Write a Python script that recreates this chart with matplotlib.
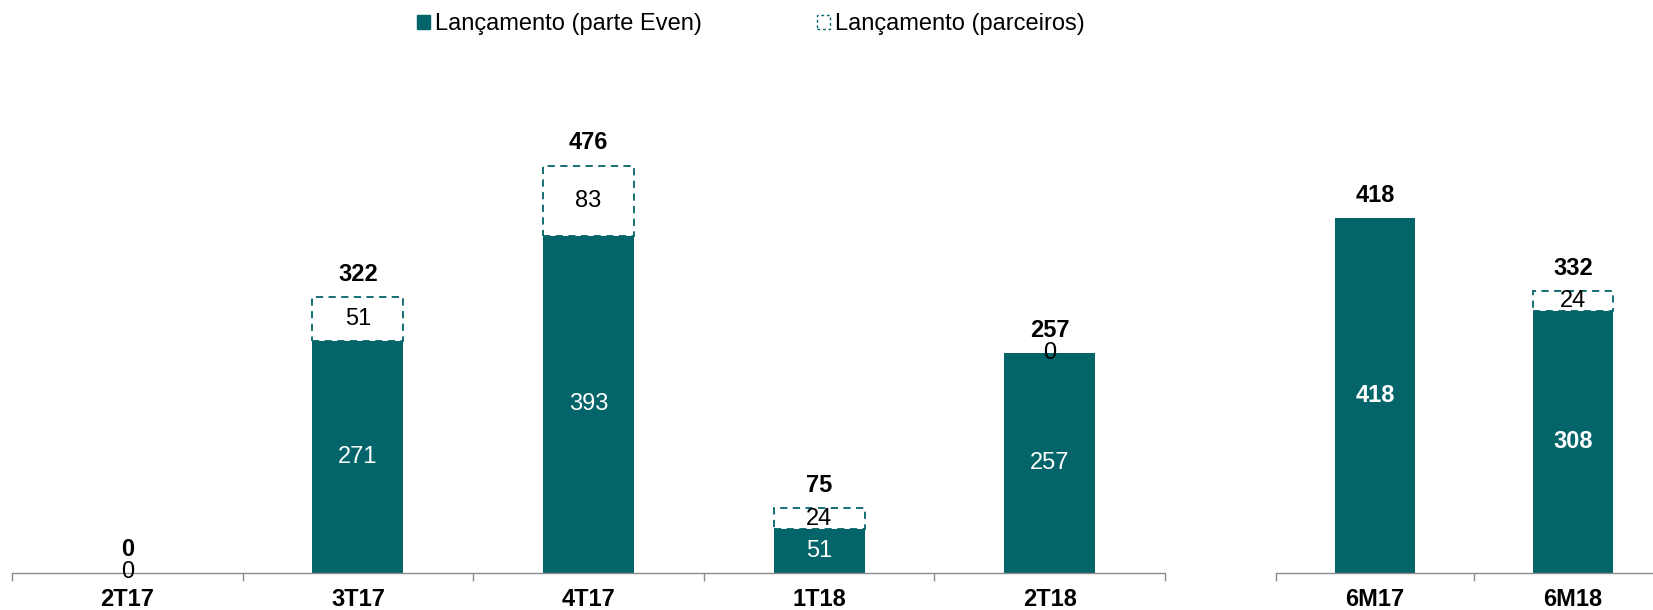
import matplotlib
matplotlib.use("Agg")
import matplotlib.pyplot as plt
from matplotlib.patches import Patch

plt.rcParams['font.family'] = ['Liberation Sans', 'DejaVu Sans']

# data
q_labels = ["2T17", "3T17", "4T17", "1T18", "2T18"]
q_even = [0, 271, 393, 51, 257]
q_partner = [0, 51, 83, 24, 0]
q_total = [0, 322, 476, 75, 257]

s_labels = ["6M17", "6M18"]
s_even = [418, 308]
s_partner = [0, 24]
s_total = [418, 332]

TEAL = "#03656A"
GREY = "#8c8c8c"
FS = 17

fig = plt.figure(figsize=(16.53, 6.10), dpi=100)
ax1 = fig.add_axes([12/1653, 37.5/610, 1153/1653, 513/610])
ax2 = fig.add_axes([1276/1653, 37.5/610, 396/1653, 513/610])


def draw(ax, labels, even, partner, total, width, bold_inside, show_zero_partner):
    n = len(labels)
    x = list(range(n))
    ax.bar(x, even, width=width, color=TEAL, edgecolor=TEAL, linewidth=0, zorder=2)
    for i in range(n):
        if partner[i] > 0:
            ax.bar(x[i], partner[i], bottom=even[i], width=width, facecolor="white",
                   edgecolor=TEAL, linewidth=1.3, linestyle=(0, (4, 3)), zorder=3)
    for i in range(n):
        ax.annotate(f"{total[i]}", (x[i], total[i]), xytext=(0, 8), textcoords="offset points",
                    ha="center", va="bottom", fontsize=FS, fontweight="bold", color="black", zorder=5)
        if even[i] > 0:
            ax.text(x[i], even[i] / 2, f"{even[i]}", ha="center", va="center", fontsize=FS,
                    color="white", fontweight="bold" if bold_inside else "normal", zorder=5)
        else:
            ax.text(x[i], 0, "0", ha="center", va="center", fontsize=FS, color="black", zorder=5)
        if partner[i] > 0:
            ax.text(x[i], even[i] + partner[i] / 2, f"{partner[i]}", ha="center", va="center",
                    fontsize=FS, color="black", zorder=5)
        elif show_zero_partner and even[i] > 0:
            ax.text(x[i], even[i], "0", ha="center", va="center", fontsize=FS, color="black", zorder=5)
    ax.set_xlim(-0.5, n - 0.5)
    for s in ["left", "right", "top"]:
        ax.spines[s].set_visible(False)
    ax.spines["bottom"].set_color(GREY)
    ax.spines["bottom"].set_linewidth(1.0)
    ax.set_yticks([])
    ax.set_xticks(x)
    ax.set_xticklabels(labels, fontsize=FS, fontweight="bold")
    ax.tick_params(axis="x", which="major", length=0, pad=11)
    ax.set_xticks([i - 0.5 for i in range(n + 1)], minor=True)
    ax.tick_params(axis="x", which="minor", length=6, color=GREY, width=1.0)


draw(ax1, q_labels, q_even, q_partner, q_total, 0.395, False, True)
draw(ax2, s_labels, s_even, s_partner, s_total, 0.40, True, False)
ax1.set_ylim(0, 600)
ax2.set_ylim(0, 605)

handles = [Patch(facecolor=TEAL, edgecolor=TEAL),
           Patch(facecolor="white", edgecolor=TEAL, linestyle=(0, (2, 2)), linewidth=1.0)]
fig.legend(handles, ["Lançamento (parte Even)", "Lançamento (parceiros)"],
           loc="center", bbox_to_anchor=(751/1653, 1 - 24/610), ncol=2, frameon=False,
           fontsize=FS, handlelength=0.55, handleheight=0.55, handletextpad=0.2,
           columnspacing=4.9)

fig.savefig("out.png", dpi=100)
